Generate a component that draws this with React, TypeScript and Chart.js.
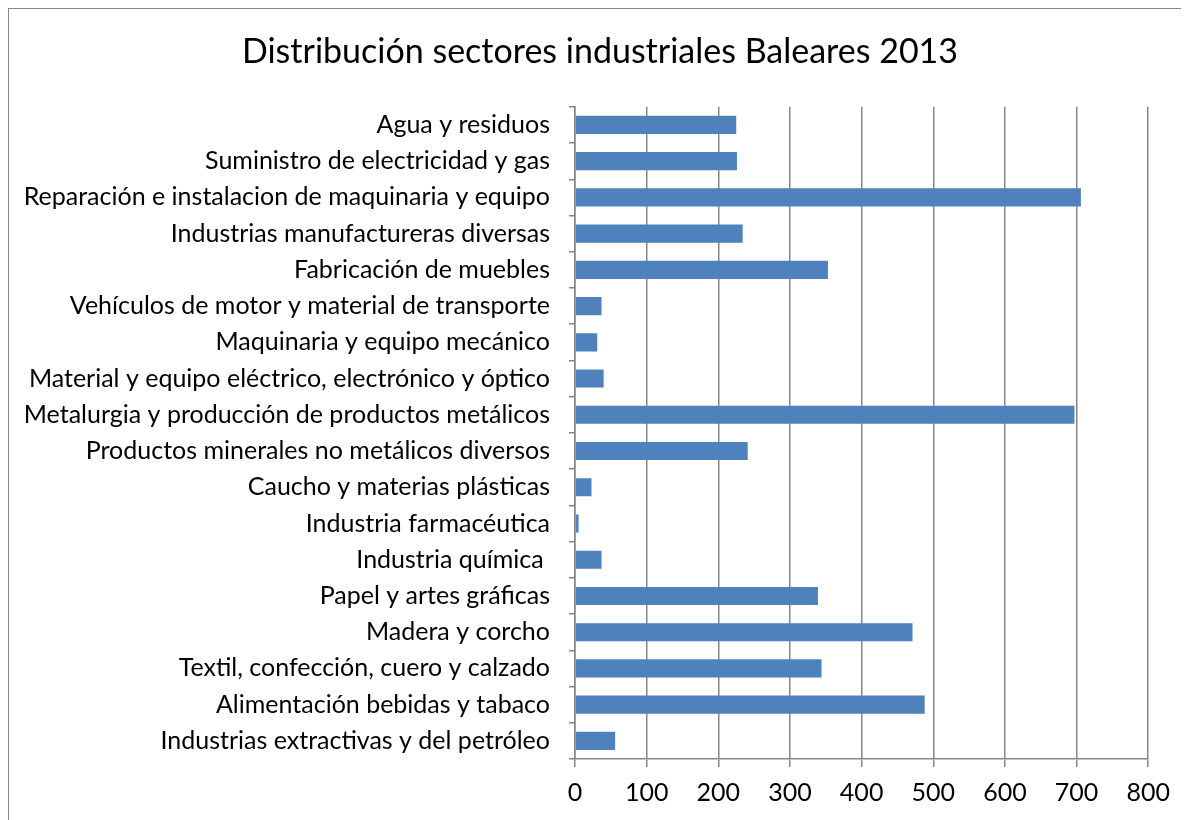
import React, { useEffect, useRef } from "react";
import { Chart, registerables } from "chart.js";

Chart.register(...registerables);

const categories = [
  "Agua y residuos",
  "Suministro de electricidad y gas",
  "Reparación e instalacion de maquinaria y equipo",
  "Industrias manufactureras diversas",
  "Fabricación de muebles",
  "Vehículos de motor y material de transporte",
  "Maquinaria y equipo mecánico",
  "Material y equipo eléctrico, electrónico y óptico",
  "Metalurgia y producción de productos metálicos",
  "Productos minerales no metálicos diversos",
  "Caucho y materias plásticas",
  "Industria farmacéutica",
  "Industria química ",
  "Papel y artes gráficas",
  "Madera y corcho",
  "Textil, confección, cuero y calzado",
  "Alimentación bebidas y tabaco",
  "Industrias extractivas y del petróleo",
];

const values = [225, 226, 706, 234, 353, 37, 31, 40, 697, 241, 23, 5, 37, 339, 471, 344, 488, 56];

const xMin = 0;
const xMax = 800;
const xStep = 100;

const titleText = "Distribución sectores industriales Baleares 2013";
const FONT = "Lato, 'Open Sans', sans-serif";

const titleShift = {
  id: "titleShift",
  afterLayout(chart: any) {
    if (chart.titleBlock) {
      chart.titleBlock.left += 41;
    }
  },
};

export default function App() {
  const ref = useRef<HTMLCanvasElement | null>(null);

  useEffect(() => {
    if (!ref.current) return;
    const chart = new Chart(ref.current, {
      type: "bar",
      data: {
        labels: categories,
        datasets: [
          {
            data: values,
            backgroundColor: "#4F81BD",
            borderWidth: 0,
            barPercentage: 0.5,
            categoryPercentage: 1,
          },
        ],
      },
      plugins: [titleShift],
      options: {
        indexAxis: "y",
        animation: false,
        responsive: false,
        maintainAspectRatio: false,
        layout: { padding: { left: 0, right: 31, top: 0, bottom: 30 } },
        plugins: {
          legend: { display: false },
          tooltip: { enabled: false },
          title: {
            display: true,
            text: titleText,
            color: "#000",
            font: { family: FONT, size: 34, weight: "normal" },
            padding: { top: 23, bottom: 34 },
          },
        },
        scales: {
          x: {
            min: xMin,
            max: xMax,
            ticks: {
              stepSize: xStep,
              color: "#000",
              font: { family: FONT, size: 25 },
              padding: 11,
            },
            grid: {
              color: "#868686",
              lineWidth: 1.5,
              tickLength: 8,
              drawTicks: true,
            },
            border: { color: "#868686", width: 1.5 },
            afterFit: (s: any) => {
              s.height = 50;
            },
          },
          y: {
            ticks: {
              color: "#000",
              font: { family: FONT, size: 25 },
              padding: 19,
              autoSkip: false,
            },
            grid: {
              drawOnChartArea: false,
              color: "#868686",
              lineWidth: 1.5,
              tickLength: 6,
              offset: true,
            },
            border: { color: "#868686", width: 1.5 },
            afterFit: (s: any) => {
              s.width = 566;
            },
          },
        },
      },
    });
    return () => chart.destroy();
  }, []);

  return (
    <div
      style={{
        width: 1172,
        height: 830,
        border: "1px solid #868686",
        background: "#fff",
      }}
    >
      <canvas ref={ref} width={1172} height={830} style={{ display: "block" }} />
    </div>
  );
}
